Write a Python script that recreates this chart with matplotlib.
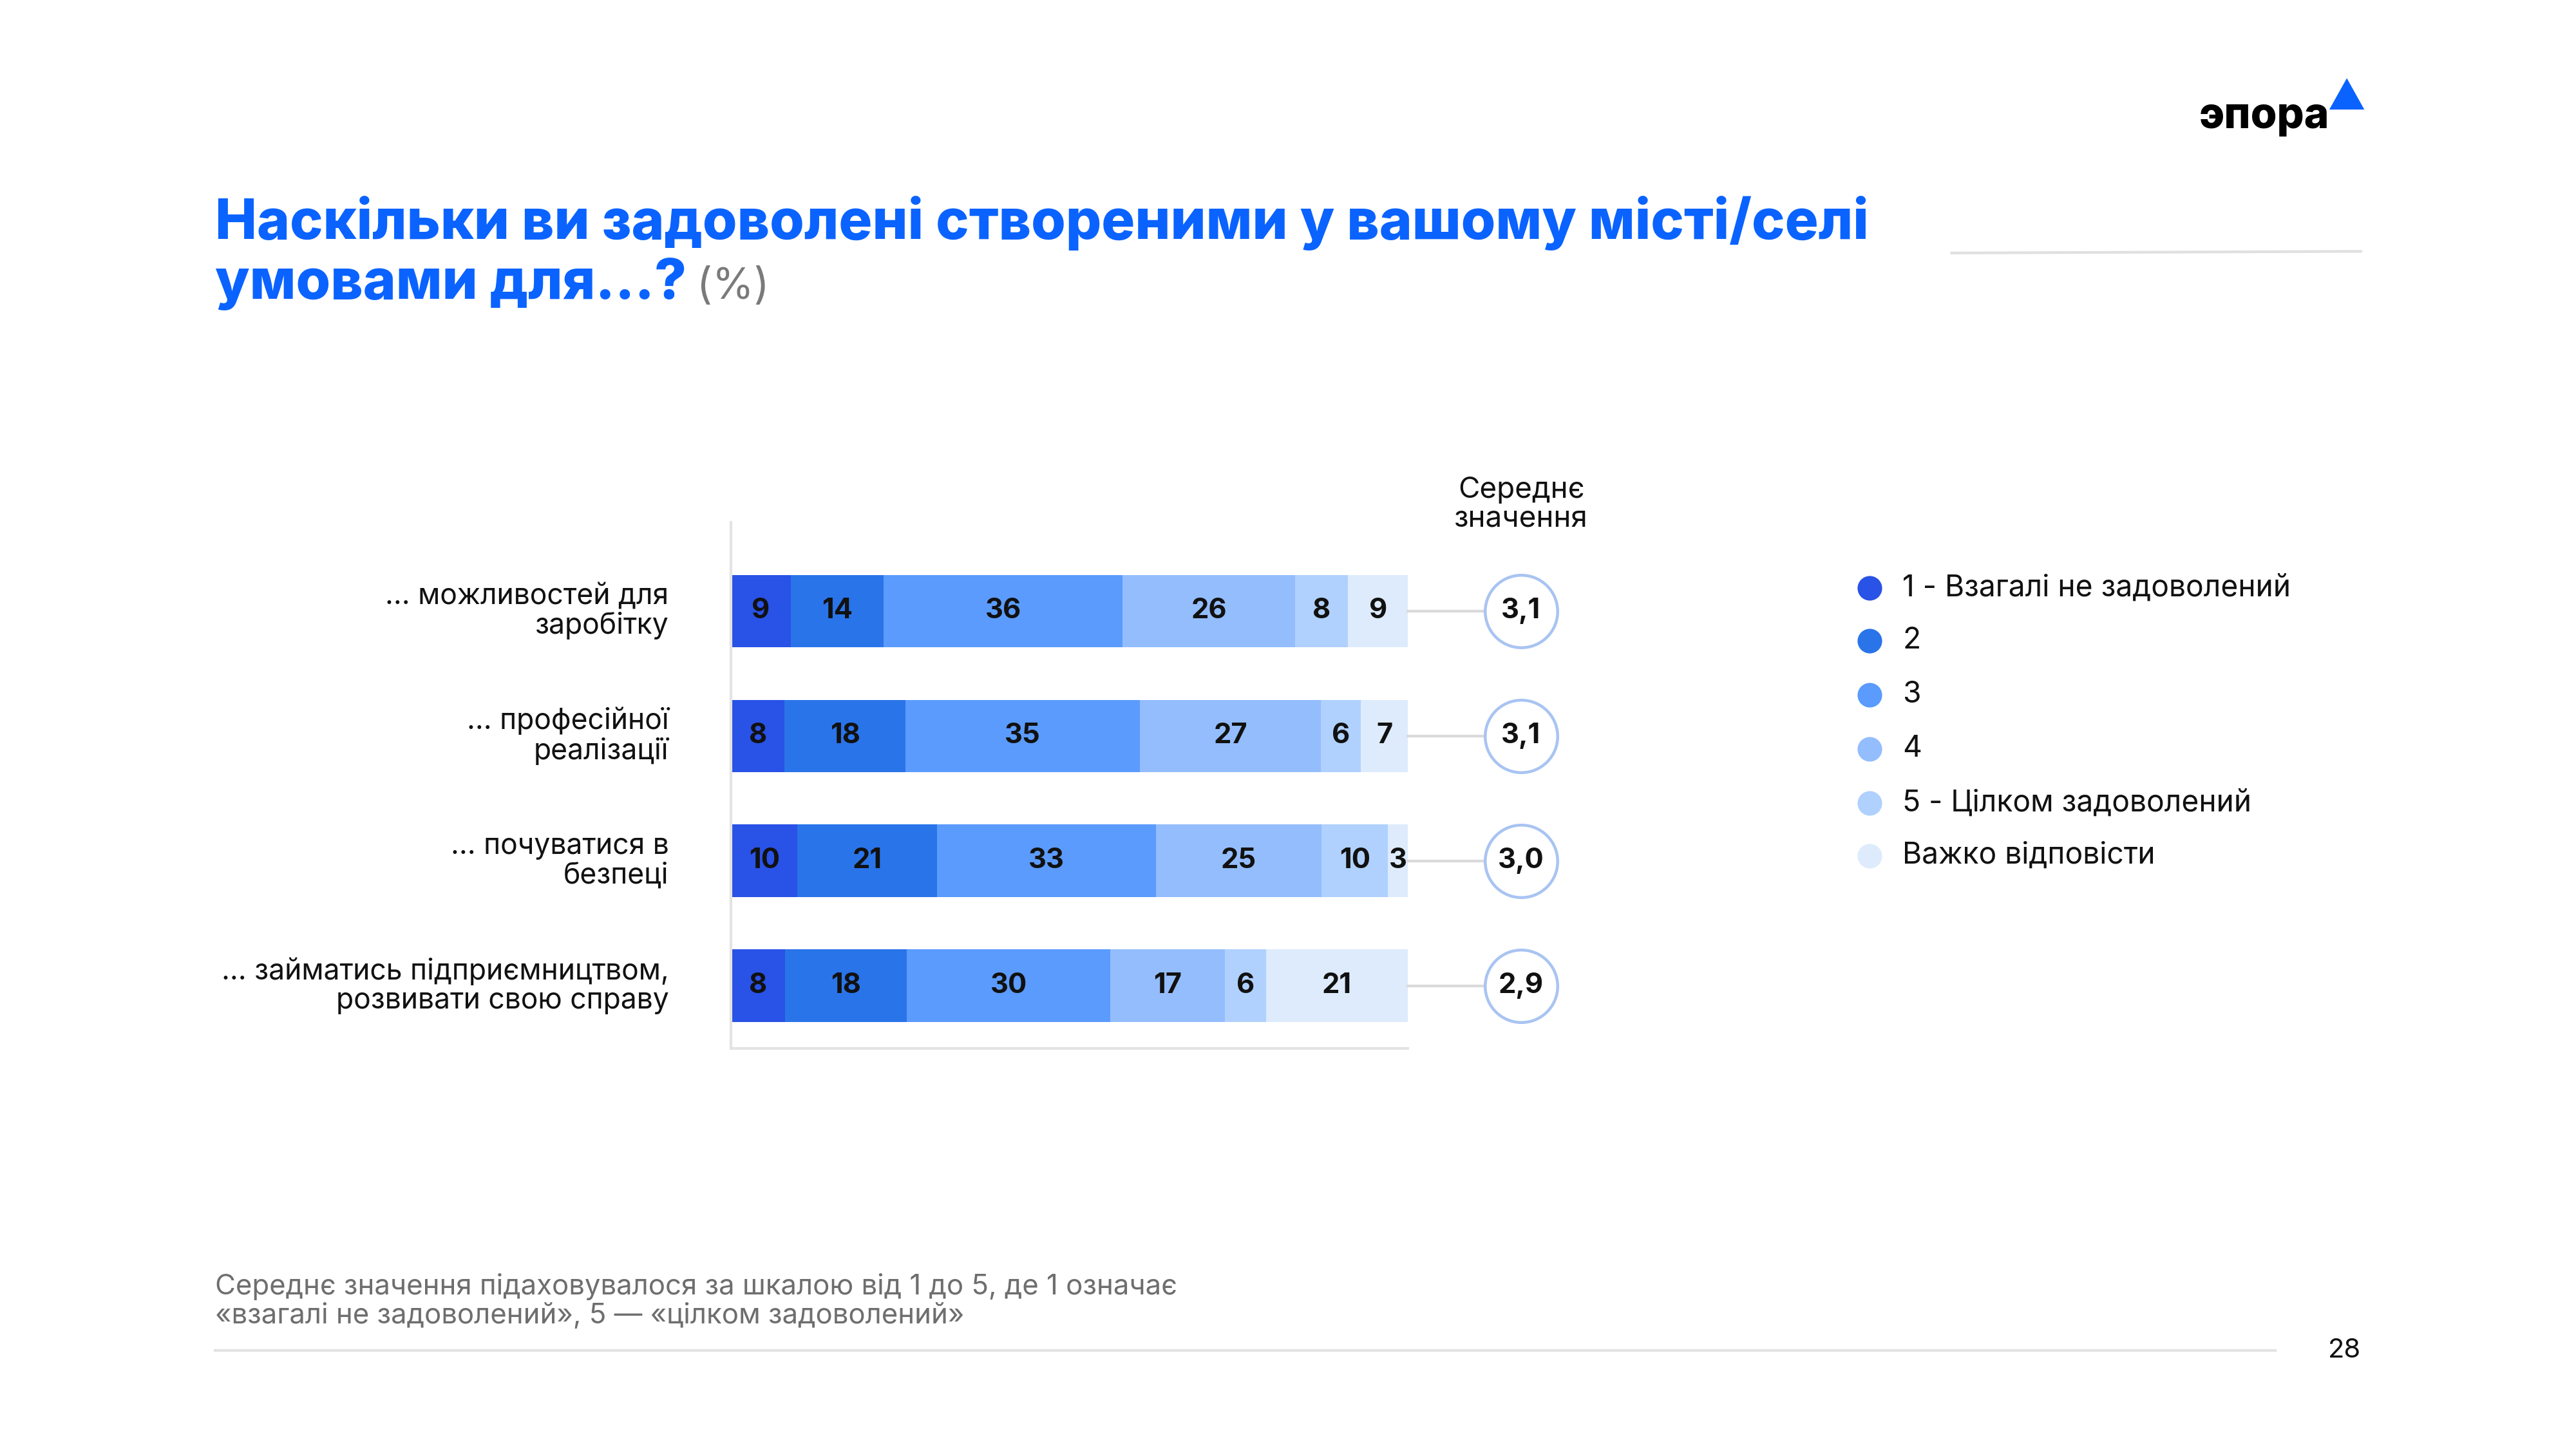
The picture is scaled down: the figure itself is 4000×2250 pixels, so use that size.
import matplotlib
matplotlib.use("Agg")
import matplotlib.pyplot as plt
from matplotlib.patches import Polygon

plt.rcParams['font.family'] = ['Inter', 'DejaVu Sans']

# Дані
categories = ["... можливостей для\nзаробітку",
              "... професійної\nреалізації",
              "... почуватися в\nбезпеці",
              "... займатись підприємництвом,\nрозвивати свою справу"]
legend_labels = ["1 - Взагалі не задоволений", "2", "3", "4",
                 "5 - Цілком задоволений", "Важко відповісти"]
v1 = [9, 8, 10, 8]
v2 = [14, 18, 21, 18]
v3 = [36, 35, 33, 30]
v4 = [26, 27, 25, 17]
v5 = [8, 6, 10, 6]
v_hard = [9, 7, 3, 21]
means = ["3,1", "3,1", "3,0", "2,9"]

colors = ["#2952E6", "#2A74EA", "#5B9BFD", "#94BDFD", "#B0D1FD", "#DDEBFD"]
series = [v1, v2, v3, v4, v5, v_hard]

W, H = 1568, 882  # координати макета сторінки


def fx(x):
    return x / W


def fy(y):
    return 1 - y / H


fig = plt.figure(figsize=(16, 9), dpi=250)

# Заголовок
title_blue = "#0A63FF"
fig.text(fx(131), fy(136), "Наскільки ви задоволені створеними у вашому місті/селі",
         color=title_blue, fontsize=25, fontweight="heavy", va="center", ha="left")
t2 = fig.text(fx(131), fy(173), "умовами для...?", color=title_blue, fontsize=25,
              fontweight="heavy", va="center", ha="left")
fig.canvas.draw()
bb = t2.get_window_extent()
fig.text(bb.x1 / fig.bbox.width + 0.004, fy(175), "(%)", color="#7A7A7A",
         fontsize=19, va="center", ha="left")

# Логотип
fig.text(fx(1418), fy(71), "эпора", color="black", fontsize=19, fontweight="heavy",
         ha="right", va="center")
fig.patches.append(Polygon([[fx(1419), fy(66)], [fx(1438), fy(66)], [fx(1428.5), fy(49)]],
                           closed=True, transform=fig.transFigure, color="#0A63FF"))
fig.add_artist(plt.Line2D([fx(1188), fx(1437)], [fy(154), fy(153)], color="#E0E0E0", lw=1.2))

# Графік
ax = fig.add_axes([fx(445), fy(638), fx(857) - fx(445), fy(318) - fy(638)])
n = len(categories)
ys = list(range(n))
totals = [sum(s[i] for s in series) for i in range(n)]
left = [0.0] * n
for s, c in zip(series, colors):
    widths = [s[i] / totals[i] * 100 for i in range(n)]
    ax.barh(ys, widths, left=left, height=0.58, color=c, edgecolor="none")
    for i in range(n):
        ax.text(left[i] + widths[i] / 2, ys[i], str(s[i]), ha="center", va="center",
                fontsize=12.5, fontweight="bold", color="#111111")
    left = [left[i] + widths[i] for i in range(n)]

ax.set_xlim(0, 100)
ax.set_ylim(3.5, -0.71)
ax.set_xticks([])
ax.set_yticks([])
for sp in ["top", "right"]:
    ax.spines[sp].set_visible(False)
ax.spines["left"].set_color("#E3E3E3")
ax.spines["bottom"].set_color("#E3E3E3")
ax.spines["left"].set_linewidth(1.2)
ax.spines["bottom"].set_linewidth(1.2)

# Підписи категорій
for i, cat in enumerate(categories):
    ax.text(-9.2, ys[i], cat, ha="right", va="center", fontsize=12.8, color="#111111",
            linespacing=1.1)

# Середні значення
mean_x = 116.7
for i, m in enumerate(means):
    ax.plot([100, mean_x], [ys[i], ys[i]], color="#DADADA", lw=1.2, clip_on=False, zorder=2)
    ax.scatter([mean_x], [ys[i]], s=1050, facecolor="white", edgecolor="#A9C4F2",
               linewidth=1.3, clip_on=False, zorder=3)
    ax.text(mean_x, ys[i], m, ha="center", va="center", fontsize=12.5,
            fontweight="bold", color="#111111", zorder=4)
fig.text(fx(926), fy(307), "Середнє\nзначення", ha="center", va="center",
         fontsize=13.2, color="#111111", linespacing=1.1)

# Легенда
leg_y = [358, 390, 423, 456, 489, 521]
for lab, c, y in zip(legend_labels, colors, leg_y):
    fig.add_artist(plt.Line2D([fx(1138)], [fy(y)], marker="o", markersize=11,
                              color=c, markeredgecolor="none", linestyle="none"))
    fig.text(fx(1158), fy(y), lab, ha="left", va="center", fontsize=13.3, color="#111111")

# Примітка
fig.text(fx(131), fy(792), "Середнє значення підаховувалося за шкалою від 1 до 5, де 1 означає\n"
         "«взагалі не задоволений», 5 — «цілком задоволений»", ha="left", va="center",
         fontsize=12.6, color="#6E6E6E", linespacing=1.15)
fig.add_artist(plt.Line2D([fx(131), fx(1385)], [fy(822), fy(822)], color="#E3E3E3", lw=1.2))
fig.text(fx(1437), fy(822), "28", ha="right", va="center", fontsize=12, color="#111111")

fig.savefig("out.png", dpi=250)
